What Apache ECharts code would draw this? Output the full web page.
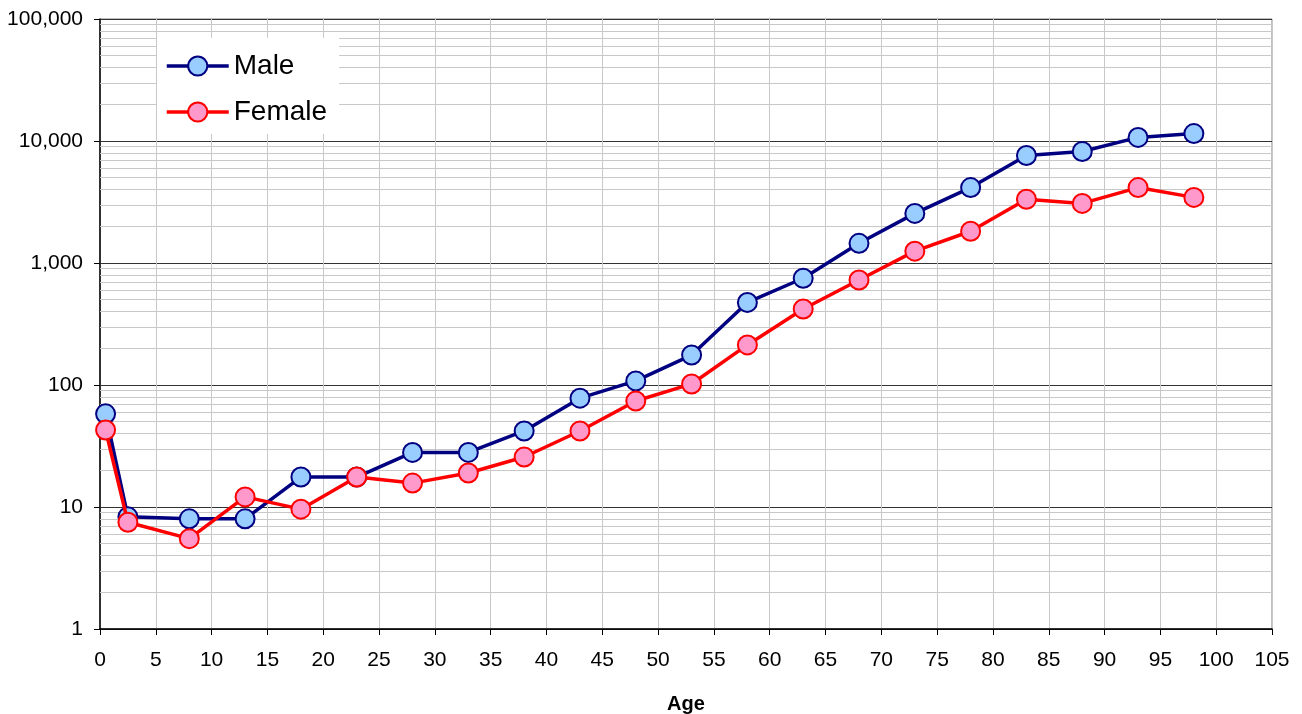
<!DOCTYPE html>
<html>
<head>
<meta charset="utf-8">
<script src="https://cdn.jsdelivr.net/npm/echarts@6/dist/echarts.min.js"></script>
<style>
html,body{margin:0;padding:0;background:#fff;}
#chart{width:1302px;height:714px;}
</style>
</head>
<body>
<div id="chart"></div>
<script>
const ages = [0.5, 2.5, 8, 13, 18, 23, 28, 33, 38, 43, 48, 53, 58, 63, 68, 73, 78, 83, 88, 93, 98];
const maleValues = [58, 8.3, 8.0, 8.0, 17.6, 17.6, 28, 28, 42, 78, 108, 176, 475, 750, 1450, 2550, 4150, 7600, 8200, 10700, 11500];
const femaleValues = [42.8, 7.5, 5.5, 12.1, 9.6, 17.6, 15.7, 19, 25.7, 42, 74, 102, 213, 420, 726, 1250, 1820, 3330, 3080, 4150, 3450];
const minorGridValues = [2,3,4,5,6,7,8,9,20,30,40,50,60,70,80,90,200,300,400,500,600,700,800,900,2000,3000,4000,5000,6000,7000,8000,9000,20000,30000,40000,50000,60000,70000,80000,90000];

const chart = echarts.init(document.getElementById('chart'), null, {renderer: 'canvas'});
const font = '"Liberation Sans", Arial, sans-serif';
function pairs(vals){ return ages.map((a,i)=>[a, vals[i]]); }

chart.setOption({
  animation: false,
  backgroundColor: '#fff',
  textStyle: {fontFamily: font},
  grid: {left: 100, right: 30, top: 19, bottom: 85, show: true, borderColor: '#808080', borderWidth: 1,
         backgroundColor: 'transparent', containLabel: false, outerBoundsMode: 'none'},
  legend: {
    data: ['Male', 'Female'],
    orient: 'vertical',
    left: 157, top: 38, z: 20,
    backgroundColor: '#fff',
    padding: [14, 12, 8, 8],
    itemWidth: 62, itemHeight: 24, itemGap: 18,
    lineStyle: {width: 3.5},
    textStyle: {fontSize: 28, color: '#000', fontFamily: font, lineHeight: 24}
  },
  xAxis: {
    type: 'value', min: 0, max: 105, interval: 5,
    name: 'Age', nameLocation: 'middle', nameGap: 65,
    nameTextStyle: {fontSize: 20, fontWeight: 'bold', color: '#000', fontFamily: font},
    axisLine: {onZero: false, lineStyle: {color: '#000', width: 1.5}},
    axisTick: {show: true, length: 6, lineStyle: {color: '#000'}},
    axisLabel: {fontSize: 21, color: '#000', margin: 21, fontFamily: font},
    splitLine: {show: true, lineStyle: {color: '#c8c8c8', width: 1}}
  },
  yAxis: {
    type: 'log', logBase: 10, min: 1, max: 100000,
    axisLine: {show: true, lineStyle: {color: '#000', width: 1.5}},
    axisTick: {show: true, length: 6, lineStyle: {color: '#000'}},
    axisLabel: {fontSize: 21, color: '#000', margin: 17, fontFamily: font,
      formatter: v => Math.round(v).toLocaleString('en-US')},
    splitLine: {show: true, lineStyle: {color: '#333', width: 1}}
  },
  series: [
    {
      name: 'minor', type: 'line', data: [], z: 1, silent: true,
      markLine: {
        silent: true, symbol: ['none', 'none'], animation: false, z: 1,
        label: {show: false},
        lineStyle: {color: '#c8c8c8', width: 1, type: 'solid'},
        emphasis: {disabled: true},
        data: minorGridValues.map(v => ({yAxis: v}))
      }
    },
    {
      name: 'Male', type: 'line', data: pairs(maleValues), z: 3,
      symbol: 'circle', symbolSize: 19,
      lineStyle: {color: '#000080', width: 3.5},
      itemStyle: {color: '#99ccff', borderColor: '#000080', borderWidth: 2}
    },
    {
      name: 'Female', type: 'line', data: pairs(femaleValues), z: 4,
      symbol: 'circle', symbolSize: 19,
      lineStyle: {color: '#ff0000', width: 3.5},
      itemStyle: {color: '#ff99cc', borderColor: '#ff0000', borderWidth: 2}
    }
  ]
});
</script>
</body>
</html>
